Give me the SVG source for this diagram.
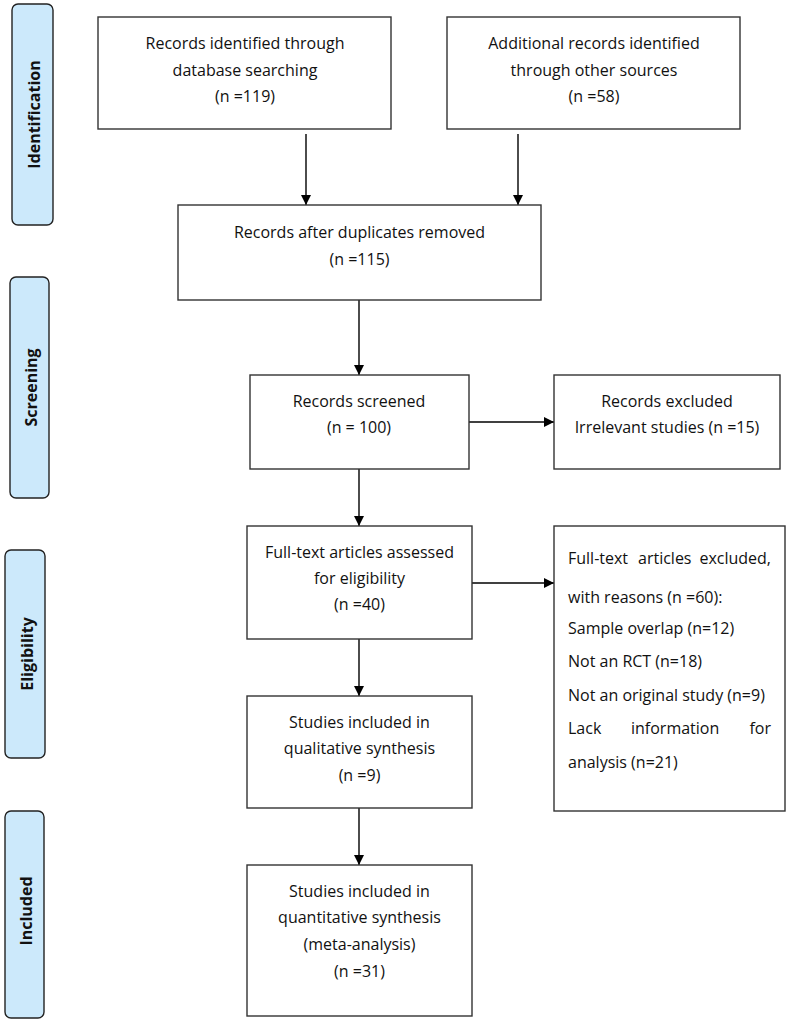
<svg xmlns="http://www.w3.org/2000/svg" width="789" height="1023" viewBox="0 0 789 1023">
<style>
.box{fill:#fff;stroke:#333;stroke-width:1.4}
.side{fill:#cce9fb;stroke:#222;stroke-width:1.4}
.t{font-family:"Open Sans","Liberation Sans",sans-serif;font-size:16px;fill:#111}
.c{text-anchor:middle}
.e{text-anchor:end}
.s{font-family:"Open Sans","Liberation Sans",sans-serif;font-size:16px;font-weight:bold;fill:#111;text-anchor:middle;dominant-baseline:central}
.ln{stroke:#000;stroke-width:1.4;fill:none;marker-end:url(#ah)}
</style>
<defs>
<marker id="ah" viewBox="0 0 10 10" refX="10" refY="5" markerWidth="10" markerHeight="10" markerUnits="userSpaceOnUse" orient="auto">
<path d="M0,0 L10,5 L0,10 z" fill="#000"/>
</marker>
</defs>
<rect width="789" height="1023" fill="#fff"/>
<g id="stage-identification"><rect class="side" x="12" y="4" width="41" height="221" rx="6"/><text class="s" transform="translate(34,114.5) rotate(-90)">Identification</text></g>
<g id="stage-screening"><rect class="side" x="10" y="277" width="39" height="221" rx="6"/><text class="s" transform="translate(31,387.5) rotate(-90)">Screening</text></g>
<g id="stage-eligibility"><rect class="side" x="5" y="550" width="40" height="208" rx="6"/><text class="s" transform="translate(27,654) rotate(-90)">Eligibility</text></g>
<g id="stage-included"><rect class="side" x="5" y="811" width="39" height="207" rx="6"/><text class="s" transform="translate(26,911) rotate(-90)">Included</text></g>

<g id="connectors">
<line class="ln" x1="306" y1="134" x2="306" y2="205"/>
<line class="ln" x1="518" y1="134" x2="518" y2="205"/>
<line class="ln" x1="359" y1="300" x2="359" y2="375"/>
<line class="ln" x1="469" y1="422" x2="554" y2="422"/>
<line class="ln" x1="359" y1="469" x2="359" y2="526"/>
<line class="ln" x1="472" y1="583" x2="554" y2="583"/>
<line class="ln" x1="359" y1="639" x2="359" y2="696"/>
<line class="ln" x1="359" y1="808" x2="359" y2="865"/>
</g>

<g id="n-database"><rect class="box" x="98" y="17" width="293" height="112"/>
<text class="t c" x="245" y="49">Records identified through</text>
<text class="t c" x="245" y="76">database searching</text>
<text class="t c" x="245" y="102">(n =119)</text></g>

<g id="n-other"><rect class="box" x="447" y="17" width="293" height="112"/>
<text class="t c" x="594" y="49">Additional records identified</text>
<text class="t c" x="594" y="76">through other sources</text>
<text class="t c" x="594" y="102">(n =58)</text></g>

<g id="n-duplicates"><rect class="box" x="178" y="205" width="363" height="95"/>
<text class="t c" x="359.5" y="238">Records after duplicates removed</text>
<text class="t c" x="359.5" y="265">(n =115)</text></g>

<g id="n-screened"><rect class="box" x="250" y="375" width="219" height="94"/>
<text class="t c" x="359" y="407">Records screened</text>
<text class="t c" x="359" y="433">(n = 100)</text></g>

<g id="n-excluded"><rect class="box" x="554" y="375" width="226" height="94"/>
<text class="t c" x="667" y="407">Records excluded</text>
<text class="t c" x="667" y="433">Irrelevant studies (n =15)</text></g>

<g id="n-fulltext"><rect class="box" x="247" y="526" width="225" height="113"/>
<text class="t c" x="359.5" y="558">Full-text articles assessed</text>
<text class="t c" x="359.5" y="584">for eligibility</text>
<text class="t c" x="359.5" y="610">(n =40)</text></g>

<g id="n-fulltext-excluded"><rect class="box" x="554" y="526" width="231" height="285"/>
<text class="t" x="568" y="564">Full-text</text>
<text class="t" x="638" y="564">articles</text>
<text class="t e" x="771" y="564">excluded,</text>
<text class="t" x="568" y="603">with reasons (n =60):</text>
<text class="t" x="568" y="634">Sample overlap (n=12)</text>
<text class="t" x="568" y="667">Not an RCT (n=18)</text>
<text class="t" x="568" y="701">Not an original study (n=9)</text>
<text class="t" x="568" y="734">Lack</text>
<text class="t" x="631" y="734">information</text>
<text class="t e" x="771" y="734">for</text>
<text class="t" x="568" y="768">analysis (n=21)</text></g>

<g id="n-qualitative"><rect class="box" x="247" y="696" width="225" height="112"/>
<text class="t c" x="359.5" y="728">Studies included in</text>
<text class="t c" x="359.5" y="754">qualitative synthesis</text>
<text class="t c" x="359.5" y="781">(n =9)</text></g>

<g id="n-quantitative"><rect class="box" x="247" y="865" width="225" height="151"/>
<text class="t c" x="359.5" y="897">Studies included in</text>
<text class="t c" x="359.5" y="923">quantitative synthesis</text>
<text class="t c" x="359.5" y="950">(meta-analysis)</text>
<text class="t c" x="359.5" y="977">(n =31)</text></g>
</svg>
